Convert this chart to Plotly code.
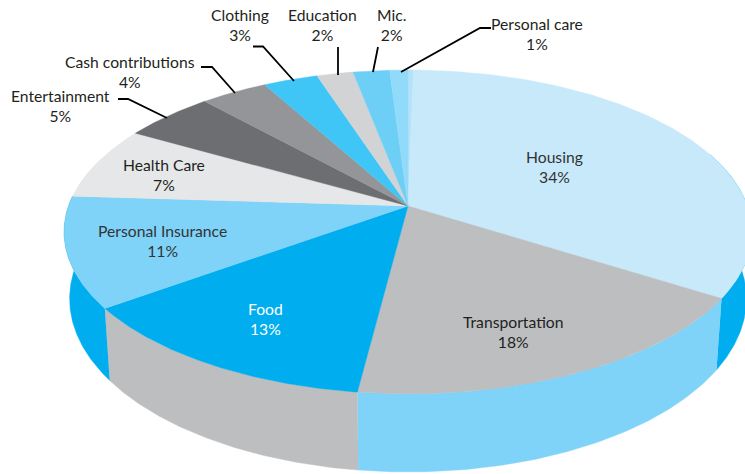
import numpy as np
import plotly.graph_objects as go

# Data
categories = ["Sliver", "Housing", "Transportation", "Food", "Personal Insurance", "Health Care",
              "Entertainment", "Cash contributions", "Clothing", "Education", "Mic.", "Personal care"]
shares = [0.3, 33.7, 18, 13, 11, 7.3, 5, 3.7, 3, 2, 2, 1]
top_colors = ["#B4E2F8", "#C7E9FA", "#BCBEC0", "#00AEEF", "#7FD2F8", "#E6E7E8",
              "#6D6E71", "#939598", "#40C6F6", "#D1D3D4", "#6DCFF6", "#92DAF9"]
# side wall: colour per visible slice (index into categories)
wall_colors = {1: "#00AEEF", 2: "#7FD2F8", 3: "#BCBEC0", 4: "#00AEEF"}

labels = [("Housing<br>34%", 554, 166.6, "#333333"),
          ("Transportation<br>18%", 513, 331.6, "#231F20"),
          ("Food<br>13%", 265, 318.6, "#FFFFFF"),
          ("Personal Insurance<br>11%", 162, 240.6, "#333333"),
          ("Health Care<br>7%", 164, 174.6, "#231F20"),
          ("Entertainment<br>5%", 60, 105.6, "#231F20"),
          ("Cash contributions<br>4%", 130, 71.6, "#231F20"),
          ("Clothing<br>3%", 240, 24.6, "#231F20"),
          ("Education<br>2%", 322, 24.6, "#231F20"),
          ("Mic.<br>2%", 391, 24.6, "#231F20"),
          ("Personal care<br>1%", 537, 33.6, "#231F20")]

leaders = [([118, 128, 167], [99, 99, 118]),
           ([201, 212, 235], [67, 67, 93]),
           ([253, 263, 294], [46.5, 46.5, 81]),
           ([338, 338], [47, 75]),
           ([378, 373], [47, 72]),
           ([401, 480, 491], [72, 28, 28])]

# Projection of the disc
CX, CY, A, B, K = 408.0, 206.0, 157.8, 339.5, 0.16


def top(theta):
    u, v = np.sin(theta), np.cos(theta)
    s = 1 / (1 + K * v)
    return CX + B * u * s, CY - A * v * s


def bottom(theta):
    x, y = top(theta)
    return CX + (x - CX) * 0.984, CY + 65 + (y - CY) * 1.07


fig = go.Figure()
edges = np.concatenate([[0], np.cumsum(shares)]) / sum(shares) * 2 * np.pi


def poly(x, y, color):
    fig.add_trace(go.Scatter(x=x, y=y, mode="lines", fill="toself", fillcolor=color,
                             line=dict(color=color, width=0.4), hoverinfo="skip", showlegend=False))


WALL_FROM, WALL_TO = np.radians(70), np.radians(274)
for i, color in wall_colors.items():
    t = np.linspace(max(edges[i], WALL_FROM), min(edges[i + 1], WALL_TO), 100)
    x1, y1 = top(t)
    x2, y2 = bottom(t)
    poly(np.r_[x1, x2[::-1]], np.r_[y1, y2[::-1]], color)

for i, color in enumerate(top_colors):
    t = np.linspace(edges[i], edges[i + 1], 120)
    x, y = top(t)
    poly(np.r_[CX, x, CX], np.r_[CY, y, CY], color)

for lx, ly in leaders:
    fig.add_trace(go.Scatter(x=lx, y=ly, mode="lines", line=dict(color="#000000", width=1.8),
                             hoverinfo="skip", showlegend=False))

for text, x, y, c in labels:
    fig.add_annotation(x=x, y=y, text=text, showarrow=False, xanchor="center", yanchor="middle",
                       font=dict(family="Lato", size=15.7, color=c))

fig.update_xaxes(range=[0, 745], visible=False, fixedrange=True)
fig.update_yaxes(range=[474, 0], visible=False, fixedrange=True)
fig.update_layout(width=745, height=474, margin=dict(l=0, r=0, t=0, b=0),
                  paper_bgcolor="white", plot_bgcolor="white")
fig.write_html("out.html", config=dict(displayModeBar=False),
               post_script="document.body.style.margin='0';document.body.style.overflow='hidden';")
